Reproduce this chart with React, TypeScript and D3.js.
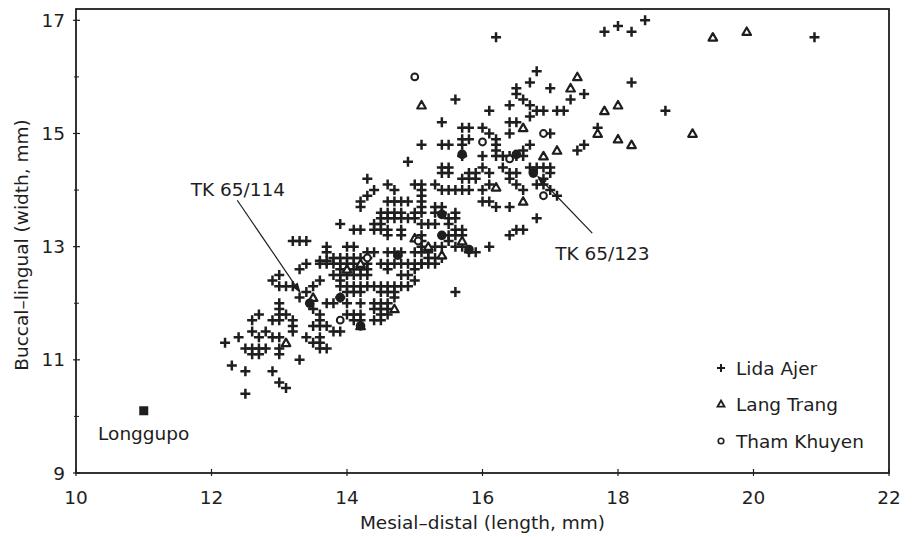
import React from "react";
import * as d3 from "d3";

// ---------- DATA (mm) ----------
const xTicks = [10, 12, 14, 16, 18, 20, 22];
const yTicks = [9, 11, 13, 15, 17];
const yMinorTicks = [10, 12, 14, 16];

const lidaAjer: [number, number][] = [
  [12.5,10.4],[13.1,10.5],[13.0,10.6],[12.5,10.8],[12.9,10.8],[12.3,10.9],[13.3,11.0],
  [12.2,11.3],[12.4,11.4],[12.5,11.2],[12.6,11.2],[12.7,11.2],[12.8,11.2],[12.6,11.1],[12.7,11.1],
  [12.6,11.5],[12.7,11.4],[12.8,11.5],[12.9,11.4],
  [12.6,11.7],[12.7,11.8],[12.9,11.7],
  [13.0,12.0],[13.0,11.9],[13.0,11.8],[13.0,11.7],[13.1,11.8],[13.2,11.7],
  [13.0,11.4],[13.0,11.2],[13.0,11.1],
  [13.2,11.6],[13.2,11.5],[13.4,11.4],[13.5,11.3],[13.6,11.3],[13.7,11.2],
  [13.6,11.7],[13.6,11.6],[13.6,11.4],[13.5,11.6],[13.7,11.6],[13.8,11.5],
  [12.9,12.4],[13.0,12.5],[13.0,12.3],[13.1,12.3],[13.2,12.3],
  [13.3,12.6],[13.4,12.7],[13.3,12.1],[13.4,12.2],[13.5,11.9],
  [13.7,12.0],[13.7,12.7],[13.8,12.7],[13.9,12.7],[13.8,12.8],[13.9,12.1],[14.0,12.0],[13.9,12.4],
  [13.2,13.1],[13.3,13.1],[13.7,13.0],[13.7,12.9],[13.6,12.75],[13.7,12.75],
  [14.9,14.5],[14.3,14.2],[14.6,14.1],[14.7,14.0],[14.4,14.0],[14.3,13.9],[14.2,13.8],[14.2,13.7],
  [15.0,14.1],[15.1,14.1],[15.1,14.0],[15.1,13.9],[15.1,13.8],
  [14.6,13.8],[14.7,13.8],[14.8,13.8],[14.9,13.8],
  [14.5,13.6],[14.6,13.6],[14.7,13.6],[14.8,13.6],[15.0,13.6],[15.1,13.6],
  [14.5,13.5],[14.6,13.5],[14.7,13.5],[14.8,13.5],[14.9,13.5],[15.0,13.5],
  [13.9,13.4],[14.4,13.4],[14.5,13.4],
  [14.1,13.3],[14.2,13.3],[14.4,13.3],[14.5,13.3],[14.6,13.3],[14.8,13.3],
  [14.6,13.2],[14.8,13.2],
  [13.4,13.1],[14.0,13.0],[14.1,13.0],
  [14.3,12.9],[14.4,12.9],[14.6,12.9],[14.7,12.9],[14.8,12.9],[15.0,12.9],[15.1,12.9],[15.2,12.9],
  [13.9,12.8],[14.0,12.8],[14.1,12.8],[14.2,12.8],[14.3,12.8],
  [13.6,12.7],[14.0,12.7],[14.1,12.7],[14.3,12.7],
  [14.5,12.7],[14.6,12.7],[14.7,12.7],[14.8,12.7],[14.9,12.7],[15.0,12.7],[15.1,12.7],
  [13.9,12.6],[14.0,12.6],[14.1,12.6],[14.2,12.6],[14.3,12.6],
  [14.6,12.6],[14.8,12.5],[14.9,12.5],[15.0,12.6],[15.0,12.4],
  [13.9,12.5],[14.0,12.5],[14.1,12.5],[14.2,12.5],[14.3,12.5],[13.8,12.5],
  [13.6,12.4],[13.5,12.3],
  [13.9,12.3],[14.0,12.3],[14.1,12.3],[14.2,12.3],[14.3,12.3],[14.4,12.3],[14.5,12.3],[14.6,12.3],[14.7,12.3],[14.8,12.3],[14.9,12.3],
  [14.0,12.2],[14.1,12.2],[14.2,12.2],[14.5,12.2],[14.6,12.2],[14.7,12.2],
  [13.8,12.0],[14.2,12.0],[14.4,12.0],[14.5,12.0],[14.6,12.0],[14.7,12.1],
  [14.4,11.9],[14.5,11.9],[14.6,11.9],
  [14.0,11.8],[14.1,11.8],[14.2,11.8],[14.5,11.8],[14.6,11.8],
  [14.1,11.7],[14.2,11.7],[14.4,11.7],[14.5,11.7],
  [13.6,11.8],[13.9,11.5],[13.6,11.2],
  [15.4,15.2],[15.7,15.1],[15.8,15.1],[16.0,15.1],[16.1,15.0],[16.4,15.2],[16.5,15.2],[16.4,15.0],
  [15.1,14.8],[15.4,14.8],[15.5,14.8],[15.7,14.9],[15.8,14.9],[15.7,14.8],
  [16.2,14.9],[16.2,14.8],[16.2,14.7],
  [15.7,14.6],[16.0,14.6],[16.2,14.6],[16.3,14.6],[16.4,14.6],[16.5,14.6],[16.6,14.6],
  [16.7,14.8],
  [15.4,14.4],[15.5,14.4],[15.4,14.3],[15.5,14.3],
  [15.8,14.3],[15.9,14.3],[15.7,14.2],[15.8,14.2],[15.9,14.2],
  [16.0,14.4],[16.1,14.3],[16.3,14.4],[16.4,14.3],[16.5,14.3],
  [15.3,14.1],[15.4,14.0],[15.5,14.0],[15.6,14.0],[15.7,14.0],[15.8,14.0],
  [15.1,13.7],
  [16.0,14.0],[16.1,14.1],[16.4,14.2],[16.5,14.1],[16.6,14.0],[16.8,14.1],[16.9,14.2],
  [16.0,13.8],[16.1,13.8],[16.2,13.7],[16.4,13.7],
  [15.3,13.7],[15.4,13.7],[15.3,13.6],[15.4,13.6],[15.6,13.6],
  [15.5,13.5],[15.6,13.5],
  [15.1,13.4],[15.2,13.4],[15.3,13.4],[15.5,13.4],
  [15.6,13.3],[15.7,13.2],[15.5,13.2],[15.6,13.2],[15.7,13.3],
  [15.1,13.2],[15.1,13.1],[15.1,13.0],
  [15.3,13.0],[15.4,13.0],[15.5,13.1],[15.6,13.0],[15.7,13.0],
  [16.1,13.0],[16.4,13.2],[16.5,13.3],
  [15.2,12.8],[15.3,12.8],[15.4,12.8],
  [15.1,12.7],[15.2,12.7],[15.3,12.7],
  [15.8,12.9],[15.9,12.9],
  [15.6,12.2],
  [16.2,16.7],[16.8,16.1],[16.7,15.9],[17.0,15.8],[17.5,15.7],[17.3,15.6],
  [16.5,15.8],[16.5,15.7],[16.4,15.5],[16.6,15.6],[16.7,15.5],[16.8,15.4],[16.9,15.4],[16.7,15.3],
  [17.1,15.4],[17.2,15.4],
  [15.6,15.6],[16.1,15.4],
  [17.0,15.0],[17.7,15.1],
  [16.6,14.7],
  [17.4,14.7],[17.5,14.8],
  [16.7,14.4],[16.8,14.4],[16.9,14.4],[17.0,14.4],[17.0,14.3],
  [16.9,14.1],[17.0,14.0],[17.1,13.9],
  [16.8,13.5],[16.6,13.3],
  [17.8,16.8],[18.0,16.9],[18.2,16.8],[18.4,17.0],[20.9,16.7],[18.2,15.9],[18.7,15.4],
];

const langTrang: [number, number][] = [
  [19.4,16.7],[19.9,16.8],[17.4,16.0],[17.3,15.8],[17.8,15.4],[18.0,15.5],[15.1,15.5],
  [16.6,15.1],[17.7,15.0],[18.0,14.9],[18.2,14.8],[19.1,15.0],[17.1,14.7],[16.9,14.6],
  [16.6,13.8],[16.2,14.05],[15.7,13.1],[15.2,13.0],[15.4,12.85],[15.0,13.15],
  [13.5,12.1],[14.7,11.9],[14.2,12.7],[13.1,11.3],[14.2,11.6],[14.0,12.6],
];

const thamKhuyen: [number, number][] = [
  [15.0,16.0],[16.0,14.85],[16.9,15.0],[16.9,13.9],[13.9,11.7],[16.4,14.55],[15.05,13.1],[14.3,12.8],
];

// dark overlapping clusters of marks
const overlapBlobs: [number, number][] = [
  [13.45,12.0],[16.75,14.3],[15.7,14.63],[16.5,14.63],[15.4,13.57],[15.4,13.2],[15.8,12.95],
  [14.75,12.85],[13.9,12.1],[14.2,11.6],
];

const longgupo: [number, number] = [11.0, 10.1];

const annotations = [
  { label: "TK 65/114", tx: 12.39, ty: 13.9, from: [12.38, 13.82], to: [13.32, 12.17] },
  { label: "TK 65/123", tx: 17.77, ty: 12.76, from: [17.62, 13.24], to: [16.8, 14.26] },
];

const legendItems = ["Lida Ajer", "Lang Trang", "Tham Khuyen"];

// ---------- CHART ----------
const W = 912, H = 537;
const ink = "#1e1e1e";
const font = "'DejaVu Sans', 'Liberation Sans', sans-serif";
const fs = 18.5;

const x = d3.scaleLinear().domain([10, 22]).range([76, 889]);
const y = d3.scaleLinear().domain([9, 17.2]).range([473, 9]);

const Plus = ({ cx, cy }: { cx: number; cy: number }) => (
  <path d={`M${cx - 5},${cy}H${cx + 5}M${cx},${cy - 5}V${cy + 5}`} stroke={ink} strokeWidth={2.5} fill="none" />
);
const Tri = ({ cx, cy }: { cx: number; cy: number }) => {
  const p = d3.path();
  p.moveTo(cx, cy - 4.2);
  p.lineTo(cx + 4.3, cy + 3.3);
  p.lineTo(cx - 4.3, cy + 3.3);
  p.closePath();
  return <path d={p.toString()} stroke={ink} strokeWidth={2.2} fill="white" strokeLinejoin="round" />;
};
const Circ = ({ cx, cy }: { cx: number; cy: number }) => (
  <circle cx={cx} cy={cy} r={3.4} stroke={ink} strokeWidth={2} fill="white" />
);

function Arrow({ a }: { a: (typeof annotations)[number] }) {
  const x1 = x(a.from[0]), y1 = y(a.from[1]), x2 = x(a.to[0]), y2 = y(a.to[1]);
  const ang = Math.atan2(y2 - y1, x2 - x1);
  const L = 11, Wd = 3.5;
  const bx = x2 - L * Math.cos(ang), by = y2 - L * Math.sin(ang);
  const px = -Math.sin(ang) * Wd, py = Math.cos(ang) * Wd;
  return (
    <g>
      <line x1={x1} y1={y1} x2={bx} y2={by} stroke={ink} strokeWidth={1.2} />
      <path d={`M${x2},${y2}L${bx + px},${by + py}L${bx - px},${by - py}Z`} fill={ink} />
      <text x={x(a.tx)} y={y(a.ty)} textAnchor="middle" fontSize={fs} fill={ink} fontFamily={font}>{a.label}</text>
    </g>
  );
}

export default function App() {
  const [x0, x1] = x.range();
  const [y0, y1] = y.range();
  return (
    <svg width={W} height={H} style={{ position: "absolute", left: 0, top: 0, background: "white" }} fontFamily={font}>
      <rect width={W} height={H} fill="white" />
      {/* frame */}
      <rect x={x0} y={y1} width={x1 - x0} height={y0 - y1} fill="none" stroke={ink} strokeWidth={1.8} />
      {/* x ticks */}
      {xTicks.map((t) => (
        <g key={"xt" + t}>
          <line x1={x(t)} x2={x(t)} y1={y0 - 4} y2={y0 + 3} stroke={ink} strokeWidth={1.2} />
          <text x={x(t)} y={y0 + 31} textAnchor="middle" fontSize={fs} fill={ink}>{t}</text>
        </g>
      ))}
      {/* y ticks */}
      {yTicks.map((t) => (
        <g key={"yt" + t}>
          <line x1={x0 - 3} x2={x0 + 4} y1={y(t)} y2={y(t)} stroke={ink} strokeWidth={1.2} />
          <text x={x0 - 11} y={y(t) + 6.5} textAnchor="end" fontSize={fs} fill={ink}>{t}</text>
        </g>
      ))}
      {yMinorTicks.map((t) => (
        <line key={"ym" + t} x1={x0 - 2} x2={x0 + 3} y1={y(t)} y2={y(t)} stroke={ink} strokeWidth={1} />
      ))}
      {/* axis titles */}
      <text x={(x0 + x1) / 2} y={529} textAnchor="middle" fontSize={fs} fill={ink}>Mesial–distal (length, mm)</text>
      <text transform={`translate(28,${(y0 + y1) / 2 + 4}) rotate(-90)`} textAnchor="middle" fontSize={fs} fill={ink}>
        Buccal–lingual (width, mm)
      </text>

      {/* data */}
      {lidaAjer.map((d, i) => <Plus key={"la" + i} cx={x(d[0])} cy={y(d[1])} />)}
      {langTrang.map((d, i) => <Tri key={"lt" + i} cx={x(d[0])} cy={y(d[1])} />)}
      {thamKhuyen.map((d, i) => <Circ key={"tk" + i} cx={x(d[0])} cy={y(d[1])} />)}
      {overlapBlobs.map((d, i) => <circle key={"ob" + i} cx={x(d[0])} cy={y(d[1])} r={4.8} fill={ink} />)}

      {/* Longgupo */}
      <rect x={x(longgupo[0]) - 4.5} y={y(longgupo[1]) - 4.5} width={9} height={9} fill={ink} />
      <text x={x(longgupo[0])} y={y(longgupo[1]) + 29} textAnchor="middle" fontSize={fs} fill={ink}>Longgupo</text>

      {/* annotations */}
      {annotations.map((a) => <Arrow key={a.label} a={a} />)}

      {/* legend */}
      {legendItems.map((name, i) => {
        const ly = [368, 404, 441][i];
        return (
          <g key={name}>
            {i === 0 && <path d={`M717,${ly}H725M721,${ly - 4}V${ly + 4}`} stroke={ink} strokeWidth={2} />}
            {i === 1 && <path d={`M721,${ly - 3.5}L724.5,${ly + 2.7}L717.5,${ly + 2.7}Z`} stroke={ink} strokeWidth={1.8} fill="white" />}
            {i === 2 && <circle cx={721} cy={ly} r={2.8} stroke={ink} strokeWidth={1.6} fill="white" />}
            <text x={736} y={ly + 6.5} fontSize={fs} fill={ink}>{name}</text>
          </g>
        );
      })}
    </svg>
  );
}
